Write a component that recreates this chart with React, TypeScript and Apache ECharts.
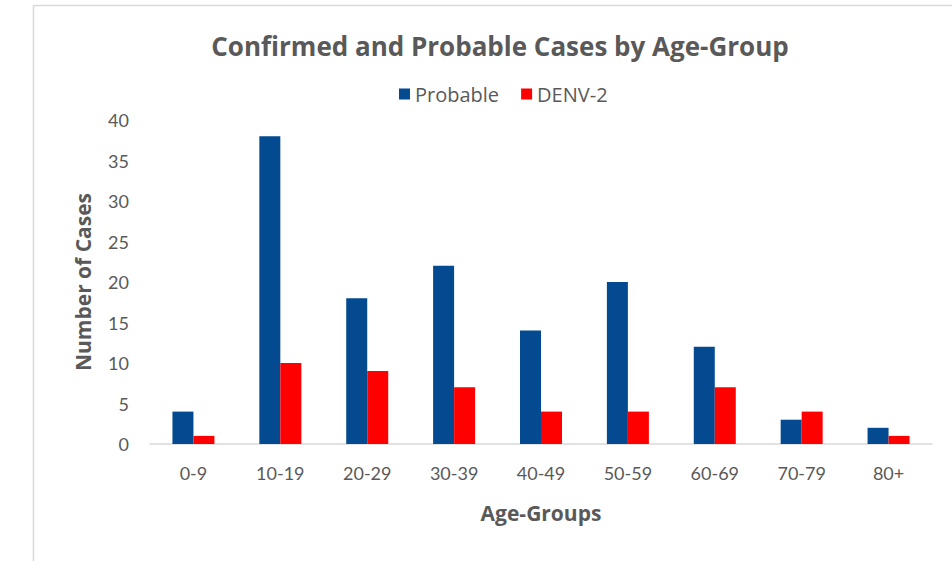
import React, { useEffect, useRef } from "react";
import * as echarts from "echarts";

const categories = ["0-9", "10-19", "20-29", "30-39", "40-49", "50-59", "60-69", "70-79", "80+"];
const probable = [4, 38, 18, 22, 14, 20, 12, 3, 2];
const denv2 = [1, 10, 9, 7, 4, 4, 7, 4, 1];

const FONT = "Lato";
const BOLD = "Open Sans";
const GRAY = "#595959";

export default function App() {
  const ref = useRef<HTMLDivElement>(null);
  useEffect(() => {
    if (!ref.current) return;
    const chart = echarts.init(ref.current, null, { renderer: "svg" });
    chart.setOption({
      animation: false,
      backgroundColor: "#ffffff",
      textStyle: { fontFamily: FONT },
      graphic: [
        { type: "line", shape: { x1: 33.5, y1: 5.5, x2: 952, y2: 5.5 }, style: { stroke: "#d9d9d9", lineWidth: 1.5 } },
        { type: "line", shape: { x1: 33.5, y1: 5.5, x2: 33.5, y2: 561 }, style: { stroke: "#d9d9d9", lineWidth: 1.5 } },
      ],
      title: {
        text: "Confirmed and Probable Cases by Age-Group",
        left: 495,
        textAlign: "center",
        top: 28,
        textStyle: { fontFamily: BOLD, fontSize: 26, fontWeight: "bold", color: GRAY },
      },
      legend: {
        top: 79,
        left: 394,
        itemWidth: 11,
        itemHeight: 11,
        itemGap: 22,
        icon: "rect",
        textStyle: { fontFamily: BOLD, fontSize: 20, color: GRAY },
        data: ["Probable", "DENV-2"],
      },
      grid: { left: 150, right: 20, top: 120, bottom: 117 },
      xAxis: {
        type: "category",
        data: categories,
        name: "Age-Groups",
        nameLocation: "middle",
        nameGap: 58,
        nameTextStyle: { fontFamily: BOLD, fontSize: 21, fontWeight: "bold", color: GRAY },
        axisLine: { lineStyle: { color: "#d9d9d9", width: 1.5 } },
        axisTick: { show: false },
        axisLabel: { fontFamily: FONT, fontSize: 18, color: GRAY, margin: 20 },
      },
      yAxis: {
        type: "value",
        min: 0,
        max: 40,
        interval: 5,
        name: "Number of Cases",
        nameLocation: "middle",
        nameGap: 57,
        nameTextStyle: { fontFamily: BOLD, fontSize: 21, fontWeight: "bold", color: GRAY },
        axisLine: { show: false },
        axisTick: { show: false },
        splitLine: { show: false },
        axisLabel: { fontFamily: FONT, fontSize: 18, color: GRAY, margin: 21 },
      },
      series: [
        { name: "Probable", type: "bar", data: probable, barWidth: 21, barGap: "0%", itemStyle: { color: "#034a90" } },
        { name: "DENV-2", type: "bar", data: denv2, barWidth: 21, itemStyle: { color: "#ff0000" } },
      ],
    });
    return () => chart.dispose();
  }, []);
  return <div ref={ref} style={{ width: 952, height: 561, position: "absolute", left: 0, top: 0 }} />;
}
